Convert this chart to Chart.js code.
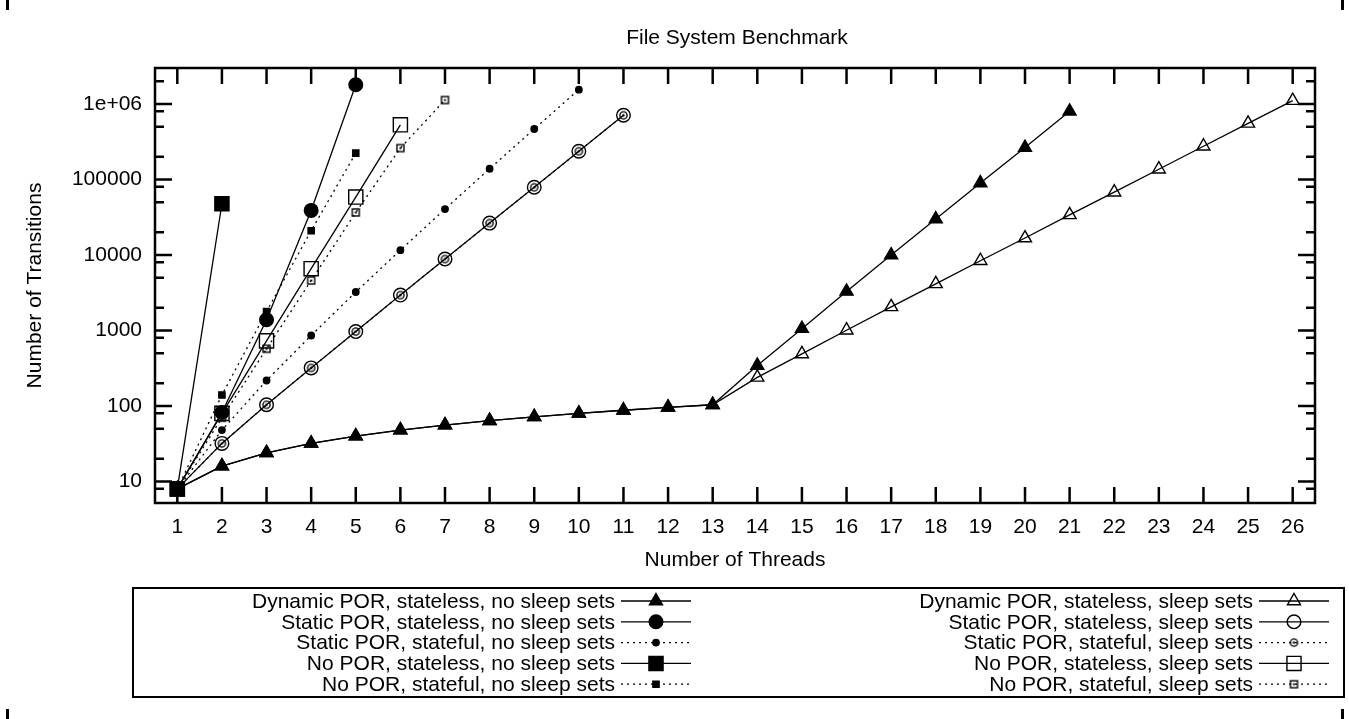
<!DOCTYPE html>
<html><head><meta charset="utf-8">
<script src="https://cdn.jsdelivr.net/npm/chart.js@4.4.1/dist/chart.umd.min.js"></script>
<style>html,body{margin:0;padding:0;background:#fff;}canvas{display:block;}</style>
</head><body>
<canvas id="c" width="1349" height="719"></canvas>
<script>
// ---------------- data ----------------
const chartTitle = 'File System Benchmark';
const xTitle = 'Number of Threads';
const yTitle = 'Number of Transitions';
const threads = [1,2,3,4,5,6,7,8,9,10,11,12,13,14,15,16,17,18,19,20,21,22,23,24,25,26];
const yTickValues = [10,100,1000,10000,100000,1000000];
const yTickLabels = ['10','100','1000','10000','100000','1e+06'];
const seriesNames = [
  'Dynamic POR, stateless, no sleep sets',
  'Static POR, stateless, no sleep sets',
  'Static POR, stateful, no sleep sets',
  'No POR, stateless, no sleep sets',
  'No POR, stateful, no sleep sets',
  'Dynamic POR, stateless, sleep sets',
  'Static POR, stateless, sleep sets',
  'Static POR, stateful, sleep sets',
  'No POR, stateless, sleep sets',
  'No POR, stateful, sleep sets'
];
const dynamicStatelessNoSleep = [8,16,24,32,40,48,56,64,72,80,88,96,104,345,1060,3300,10000,30000,90000,265000,800000];
const staticStatelessNoSleep  = [8,82,1390,39000,1800000];
const staticStatefulNoSleep   = [8,48,218,860,3240,11600,40600,139000,467000,1550000];
const noPorStatelessNoSleep   = [8,47800];
const noPorStatefulNoSleep    = [8,140,1790,21000,224000];
const dynamicStatelessSleep   = [8,16,24,32,40,48,56,64,72,80,88,96,104,240,490,1010,2060,4150,8400,16800,34000,68000,137000,276000,555000,1110000];
const staticStatelessSleep    = [8,32,104,320,970,2950,8850,26500,79000,237000,710000];
const staticStatefulSleep     = [8,32,104,320,970,2950,8850,26500,79000,237000,710000];
const noPorStatelessSleep     = [8,80,730,6600,58600,530000];
const noPorStatefulSleep      = [8,70,573,4600,36600,261000,1130000];

const seriesValues = [
  dynamicStatelessNoSleep, staticStatelessNoSleep, staticStatefulNoSleep,
  noPorStatelessNoSleep, noPorStatefulNoSleep,
  dynamicStatelessSleep, staticStatelessSleep, staticStatefulSleep,
  noPorStatelessSleep, noPorStatefulSleep
];

// ---------------- marker images ----------------
function dotCircle(){
  const c=document.createElement('canvas'); c.width=11; c.height=11;
  const g=c.getContext('2d'); g.strokeStyle='#000'; g.lineWidth=1.4;
  g.beginPath(); g.arc(5.5,5.5,3.6,0,Math.PI*2); g.stroke();
  g.fillStyle='#000'; g.beginPath(); g.arc(5.5,5.5,1.2,0,Math.PI*2); g.fill();
  return c;
}
function dotSquare(){
  const c=document.createElement('canvas'); c.width=11; c.height=11;
  const g=c.getContext('2d'); g.strokeStyle='#000'; g.lineWidth=1.4;
  g.strokeRect(2,2,7,7);
  g.fillStyle='#000'; g.fillRect(4.5,4.5,2,2);
  return c;
}
const NONE='rgba(0,0,0,0)';
const styles = [
  {pointStyle:'triangle', r:7.5, fill:'#000', dash:[]},
  {pointStyle:'circle', r:6.8, fill:'#000', dash:[]},
  {pointStyle:'circle', r:3.2, fill:'#000', dash:[2,4]},
  {pointStyle:'rect', r:10, fill:'#000', dash:[]},
  {pointStyle:'rect', r:4.4, fill:'#000', dash:[2,4]},
  {pointStyle:'triangle', r:7.5, fill:NONE, dash:[]},
  {pointStyle:'circle', r:6.8, fill:NONE, dash:[]},
  {pointStyle:dotCircle(), r:5, fill:NONE, dash:[2,4]},
  {pointStyle:'rect', r:10, fill:NONE, dash:[]},
  {pointStyle:dotSquare(), r:5, fill:NONE, dash:[2,4]}
];

const datasets = seriesValues.map((vals,i)=>({
  label: seriesNames[i],
  data: vals.map((v,k)=>({x:threads[k], y:v})),
  borderColor:'#000', borderWidth:1.3, borderDash:styles[i].dash,
  pointStyle:styles[i].pointStyle, pointRadius:styles[i].r, pointHoverRadius:styles[i].r,
  pointBackgroundColor:styles[i].fill, pointBorderColor:'#000', pointBorderWidth:1.4,
  tension:0, fill:false, order:10-i
}));

const FONT_FAMILY='"Liberation Sans", Arial, Helvetica, sans-serif';

const decor = {
  id:'decor',
  afterDraw(chart){
    const {ctx, chartArea:a, scales:{x,y}} = chart;
    ctx.save();
    // title centred over the plot
    ctx.fillStyle='#000'; ctx.font='21px '+FONT_FAMILY;
    ctx.textAlign='center'; ctx.textBaseline='middle';
    ctx.fillText(chartTitle,(a.left+a.right)/2+2,38);

    ctx.strokeStyle='#000'; ctx.lineWidth=2.5; ctx.lineCap='butt';
    ctx.beginPath();
    threads.forEach(t=>{
      const px=x.getPixelForValue(t);
      ctx.moveTo(px,a.bottom); ctx.lineTo(px,a.bottom-16);
      ctx.moveTo(px,a.top); ctx.lineTo(px,a.top+16);
    });
    const lo=Math.floor(Math.log10(y.min)), hi=Math.ceil(Math.log10(y.max));
    for(let e=lo;e<=hi;e++){
      [1,2,5,8].forEach(m=>{
        const v=m*Math.pow(10,e);
        if(v<y.min||v>y.max) return;
        const py=y.getPixelForValue(v); const len=(m===1)?17:9;
        ctx.moveTo(a.left,py); ctx.lineTo(a.left+len,py);
        ctx.moveTo(a.right,py); ctx.lineTo(a.right-len,py);
      });
    }
    ctx.stroke();
    ctx.strokeRect(a.left,a.top,a.width,a.height);

    // page corner marks
    ctx.fillStyle='#000';
    [[6,0],[6,709],[1341,0],[1341,709]].forEach(p=>ctx.fillRect(p[0],p[1],3,10));

    // legend
    const box={l:133,t:588,r:1344,b:697};
    ctx.lineWidth=2;
    ctx.strokeRect(box.l,box.t,box.r-box.l,box.b-box.t);
    ctx.font='21px '+FONT_FAMILY;
    ctx.textAlign='right'; ctx.textBaseline='middle';
    chart.data.datasets.forEach((ds,i)=>{
      const col=Math.floor(i/5), row=i%5;
      const textR=615+col*638;
      const cy=601+row*20.8;
      ctx.fillStyle='#000';
      ctx.fillText(ds.label,textR,cy+1);
      const s0=textR+6, s1=textR+76, mid=(s0+s1)/2;
      ctx.save();
      ctx.strokeStyle='#000'; ctx.lineWidth=ds.borderWidth; ctx.setLineDash(ds.borderDash||[]);
      ctx.beginPath(); ctx.moveTo(s0,cy); ctx.lineTo(s1,cy); ctx.stroke();
      ctx.restore();
      ctx.save();
      ctx.fillStyle=ds.pointBackgroundColor; ctx.strokeStyle='#000'; ctx.lineWidth=ds.pointBorderWidth;
      Chart.helpers.drawPoint(ctx,{pointStyle:ds.pointStyle,radius:ds.pointRadius,rotation:0,borderWidth:ds.pointBorderWidth},mid,cy);
      ctx.restore();
    });
    ctx.restore();
  }
};

new Chart(document.getElementById('c'),{
  type:'line',
  data:{datasets},
  options:{
    responsive:false, animation:false, devicePixelRatio:1,
    layout:{padding:{top:68,right:34,bottom:0,left:0}},
    plugins:{
      legend:{display:false}, tooltip:{enabled:false}, title:{display:false}
    },
    scales:{
      x:{
        type:'linear', min:0.5, max:26.5,
        afterBuildTicks(s){ s.ticks=threads.map(v=>({value:v})); },
        afterFit(s){ s.height=216; },
        grid:{display:false,drawTicks:false}, border:{display:false},
        ticks:{color:'#000',font:{family:FONT_FAMILY,size:21},padding:12,maxRotation:0,autoSkip:false,callback:v=>String(v)},
        title:{display:true,text:xTitle,color:'#000',font:{family:FONT_FAMILY,size:21},padding:{top:0,bottom:146}}
      },
      y:{
        type:'logarithmic', min:5.2, max:3000000,
        afterBuildTicks(s){ s.ticks=yTickValues.map(v=>({value:v})); },
        afterFit(s){ s.width=155; },
        grid:{display:false,drawTicks:false}, border:{display:false},
        ticks:{color:'#000',font:{family:FONT_FAMILY,size:21},padding:13,autoSkip:false,
          callback:(v)=>{const k=yTickValues.indexOf(v);return k>=0?yTickLabels[k]:'';}},
        title:{display:true,text:yTitle,color:'#000',font:{family:FONT_FAMILY,size:21},padding:{top:23,bottom:0}}
      }
    }
  },
  plugins:[decor]
});
</script>
</body></html>
